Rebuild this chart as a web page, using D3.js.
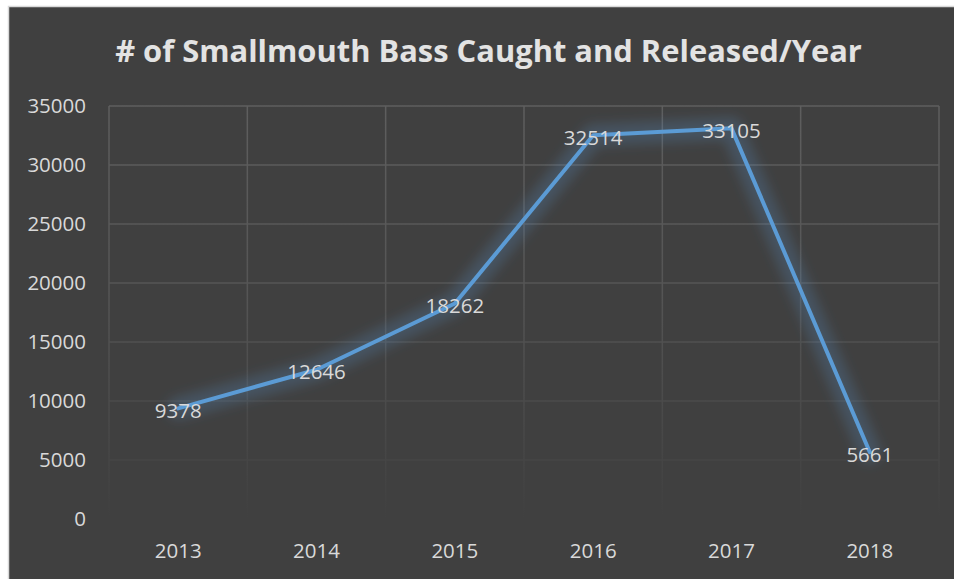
<!DOCTYPE html>
<html lang="en">
<head>
    <meta charset="UTF-8">
    <title>Smallmouth Bass Caught and Released</title>
    <script src="https://d3js.org/d3.v7.min.js"></script>
    <style>
        body {
            margin: 0;
            background-color: white;
        }
        svg {
            display: block;
        }
        .tick-label, .data-label {
            font-family: "Open Sans", sans-serif;
            font-size: 20.5px;
            fill: #d9d9d9;
        }
        .title {
            font-family: "Open Sans", sans-serif;
            font-weight: bold;
            fill: #e3e3e3;
        }
    </style>
</head>
<body>
    <script>
        const width = 954;
        const height = 579;

        const titleText = "# of Smallmouth Bass Caught and Released/Year";
        const years = ["2013", "2014", "2015", "2016", "2017", "2018"];
        const caught = [9378, 12646, 18262, 32514, 33105, 5661];
        const yTicks = [0, 5000, 10000, 15000, 20000, 25000, 30000, 35000];

        // plot area
        const plot = {left: 109, right: 939, top: 106, bottom: 519};

        const svg = d3.select("body")
            .append("svg")
            .attr("width", width)
            .attr("height", height);

        // chart background with its thin light frame
        svg.append("rect")
            .attr("x", 8.5)
            .attr("y", 6.5)
            .attr("width", width + 10)
            .attr("height", height + 10)
            .attr("fill", "#404040")
            .attr("stroke", "#d9d9d9")
            .attr("stroke-width", 1.5);

        const defs = svg.append("defs");

        // gridlines fade out towards the bottom
        const grad = defs.append("linearGradient")
            .attr("id", "gridFade")
            .attr("gradientUnits", "userSpaceOnUse")
            .attr("x1", 0).attr("y1", plot.top)
            .attr("x2", 0).attr("y2", plot.bottom);
        grad.append("stop").attr("offset", "0%").attr("stop-color", "#5e5e5e");
        grad.append("stop").attr("offset", "45%").attr("stop-color", "#555555");
        grad.append("stop").attr("offset", "100%").attr("stop-color", "#404040");

        const glow = defs.append("filter")
            .attr("id", "glow")
            .attr("x", "-20%").attr("y", "-20%")
            .attr("width", "140%").attr("height", "140%");
        glow.append("feGaussianBlur").attr("stdDeviation", 6);

        const x = d3.scaleBand()
            .domain(years)
            .range([plot.left, plot.right]);

        const y = d3.scaleLinear()
            .domain([0, 35000])
            .range([plot.bottom, plot.top]);

        // horizontal gridlines
        svg.append("g")
            .selectAll("line")
            .data(yTicks.filter(d => d > 0))
            .enter().append("line")
            .attr("x1", plot.left)
            .attr("x2", plot.right)
            .attr("y1", d => y(d))
            .attr("y2", d => y(d) + 0.001)
            .attr("stroke", "url(#gridFade)")
            .attr("stroke-width", 1.5);

        // vertical gridlines at category edges
        const edges = years.map(d => x(d)).concat([plot.right]);
        svg.append("g")
            .selectAll("line")
            .data(edges)
            .enter().append("line")
            .attr("x1", d => d)
            .attr("x2", d => d + 0.001)
            .attr("y1", plot.top)
            .attr("y2", plot.bottom)
            .attr("stroke", "url(#gridFade)")
            .attr("stroke-width", 1.5);

        // y axis labels
        svg.append("g")
            .selectAll("text")
            .data(yTicks)
            .enter().append("text")
            .attr("class", "tick-label")
            .attr("x", 86)
            .attr("y", d => y(d))
            .attr("dy", "0.36em")
            .attr("text-anchor", "end")
            .text(d => d);

        // x axis labels
        svg.append("g")
            .selectAll("text")
            .data(years)
            .enter().append("text")
            .attr("class", "tick-label")
            .attr("x", d => x(d) + x.bandwidth() / 2)
            .attr("y", 558)
            .attr("text-anchor", "middle")
            .text(d => d);

        const points = years.map((d, i) => [x(d) + x.bandwidth() / 2, y(caught[i])]);
        const line = d3.line();

        // soft blue glow under the line
        svg.append("path")
            .attr("d", line(points))
            .attr("fill", "none")
            .attr("stroke", "#5b9bd5")
            .attr("stroke-width", 22)
            .attr("stroke-opacity", 0.22)
            .attr("stroke-linejoin", "round")
            .attr("stroke-linecap", "round")
            .attr("filter", "url(#glow)");

        svg.append("path")
            .attr("d", line(points))
            .attr("fill", "none")
            .attr("stroke", "#5b9bd5")
            .attr("stroke-width", 4)
            .attr("stroke-linejoin", "round")
            .attr("stroke-linecap", "round");

        // data labels centred on the points
        svg.append("g")
            .selectAll("text")
            .data(caught)
            .enter().append("text")
            .attr("class", "data-label")
            .attr("x", (d, i) => points[i][0])
            .attr("y", (d, i) => points[i][1] + 2)
            .attr("dy", "0.36em")
            .attr("text-anchor", "middle")
            .text(d => d);

        // title, sized to the width it has in the picture
        const title = svg.append("text")
            .attr("class", "title")
            .attr("x", 488.5)
            .attr("y", 62)
            .attr("text-anchor", "middle")
            .style("font-size", "30px")
            .text(titleText);
        const w = title.node().getComputedTextLength();
        title.style("font-size", (30 * 747 / w) + "px");
    </script>
</body>
</html>
